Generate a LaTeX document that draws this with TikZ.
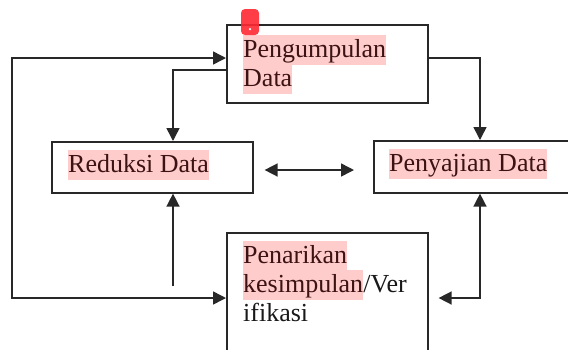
\documentclass[tikz,border=0pt]{standalone}
\usepackage{fontspec}
\setmainfont{Liberation Serif}
\usetikzlibrary{arrows.meta,calc}
\definecolor{linegray}{RGB}{40,40,40}
\definecolor{hlpink}{RGB}{255,204,204}
\definecolor{hltext}{RGB}{60,18,18}
\definecolor{markred}{RGB}{255,40,50}
\begin{document}
\begin{tikzpicture}[x=1pt,y=-1pt,
  every node/.style={inner sep=0pt, font=\fontsize{26pt}{29pt}\selectfont},
  box/.style={draw=linegray, line width=1.6pt, rectangle, anchor=north west},
  hl/.style={fill=hlpink, text=hltext, anchor=base west, text height=22pt, text depth=8pt},
  plain/.style={text=black!90, anchor=base west},
  tip/.style={Triangle[length=13pt,width=13pt]},
  link/.style={draw=linegray, line width=1.5pt, -{Triangle[length=13pt,width=13pt]}},
  dlink/.style={draw=linegray, line width=1.5pt, {Triangle[length=13pt,width=13pt]}-{Triangle[length=13pt,width=13pt]}}]
\useasboundingbox (0,0) rectangle (568,349);

% process boxes
\node[box, minimum width=201pt, minimum height=78pt] (pd) at (226,24) {};
\node[box, minimum width=201pt, minimum height=51pt] (rd) at (51,141) {};
\node[box, minimum width=210pt, minimum height=52pt] (pj) at (373,140) {};
\node[box, minimum width=201pt, minimum height=130pt] (pk) at (226,232) {};

% labels
\node[hl] (t1a) at (243,57) {Pengumpulan};
\node[hl] (t1b) at (243,86) {Data};
\node[hl] (t2) at (68,172) {Reduksi Data};
\node[hl] (t3) at (389,171) {Penyajian Data};
\node[hl] (t4a) at (243,263) {Penarikan};
\node[hl] (t4b) at (243,292) {kesimpulan};
\node[plain] (t4c) at (t4b.base east) {/Ver};
\node[plain] (t4d) at (243,321) {ifikasi};

% connector corners
\coordinate (tl) at (12,58);
\coordinate (bl) at (12,298);
\coordinate (rk) at (173,70);
\coordinate (pk2) at (480,58);
\coordinate (mid) at (0,170);
\coordinate (up) at (173,286);
\coordinate (rb) at (480,298);

% outer feedback loop
\draw[dlink] (pk.west |- bl) -- (bl) -- (tl) -- (pd.west |- tl);
% collection -> reduction
\draw[link] (pd.west |- rk) -- (rk) -- (rk |- rd.north);
% collection -> display
\draw[link] (pd.east |- pk2) -- (pk2) -- (pk2 |- pj.north);
% reduction <-> display
\draw[dlink, shorten <=11pt, shorten >=19pt] (rd.east |- mid) -- (pj.west |- mid);
% conclusion -> reduction
\draw[link] (up) -- (up |- rd.south);
% display <-> conclusion
\draw[dlink, shorten >=10pt] (pj.south -| rb) -- (rb) -- (pk.east |- rb);

% marker
\node[fill=markred, rounded corners=4pt, minimum width=18pt, minimum height=26pt, fill opacity=0.9] (mk) at (250,22) {};
\node[fill=white, circle, minimum size=2.5pt] (mkdot) at ($(mk.center)+(0,7)$) {};
\end{tikzpicture}
\end{document}
